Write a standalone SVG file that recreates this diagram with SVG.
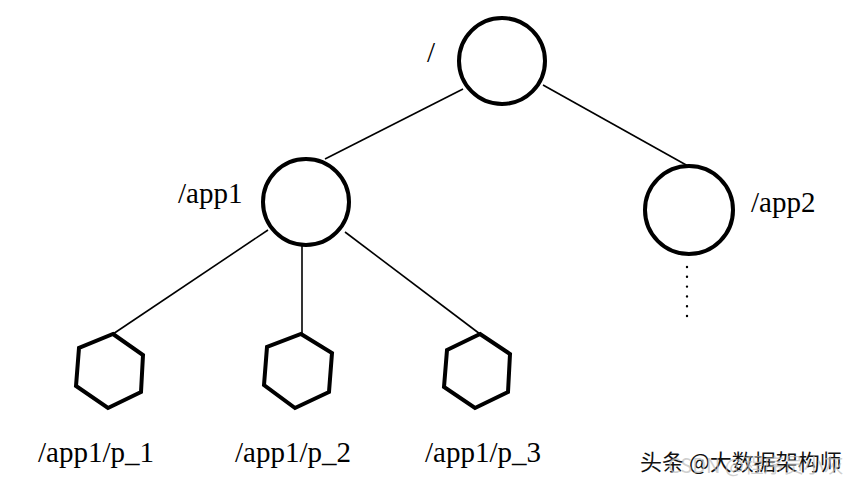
<svg xmlns="http://www.w3.org/2000/svg" width="855" height="484" viewBox="0 0 855 484">
<style>
.node{fill:#fff;stroke:#000;stroke-width:4}
.edge{stroke:#000;stroke-width:1.6;fill:none}
.lbl{font-family:"Liberation Serif","Times New Roman",serif;font-size:29px;fill:#000}
.wm{font-family:"Noto Sans CJK SC",sans-serif;font-size:22px;fill:#111}
.wm2{font-family:"Noto Sans CJK SC",sans-serif;font-size:20px;fill:#bbb;fill-opacity:0.7}
</style>
<rect width="855" height="484" fill="#fff"/>
<g id="connectors">
<line class="edge" x1="463" y1="89" x2="325" y2="159"/>
<line class="edge" x1="543" y1="85" x2="688" y2="166"/>
<line class="edge" x1="268" y1="230" x2="113" y2="334"/>
<line class="edge" x1="302" y1="246" x2="302" y2="334"/>
<line class="edge" x1="345" y1="232" x2="480" y2="334"/>
<line stroke="#000" stroke-width="2.4" stroke-linecap="round" stroke-dasharray="0 9.8" x1="687" y1="267" x2="687" y2="317"/>
</g>
<g id="root">
<circle class="node" cx="502" cy="61" r="43"/>
<text class="lbl" x="427" y="62">/</text>
</g>
<g id="app1">
<circle class="node" cx="306" cy="202" r="43"/>
<text class="lbl" x="178" y="203">/app1</text>
</g>
<g id="app2">
<circle class="node" cx="689" cy="210" r="44"/>
<text class="lbl" x="751" y="212">/app2</text>
</g>
<g id="p1">
<polygon class="node" points="113,334 143,355 141,392 108,408 76,386 79,348"/>
<text class="lbl" x="38" y="462">/app1/p_1</text>
</g>
<g id="p2">
<polygon class="node" points="301,334 332,353 329,392 295,408 264,385 267,347"/>
<text class="lbl" x="235" y="462">/app1/p_2</text>
</g>
<g id="p3">
<polygon class="node" points="480,334 510,354 508,392 475,408 444,387 447,350"/>
<text class="lbl" x="425" y="462">/app1/p_3</text>
</g>
<g id="watermark">
<text class="wm" x="640" y="470">头条 @大数据架构师</text>
<text class="wm2" x="668" y="473">CSDN @程序员小灰</text>
</g>
</svg>
